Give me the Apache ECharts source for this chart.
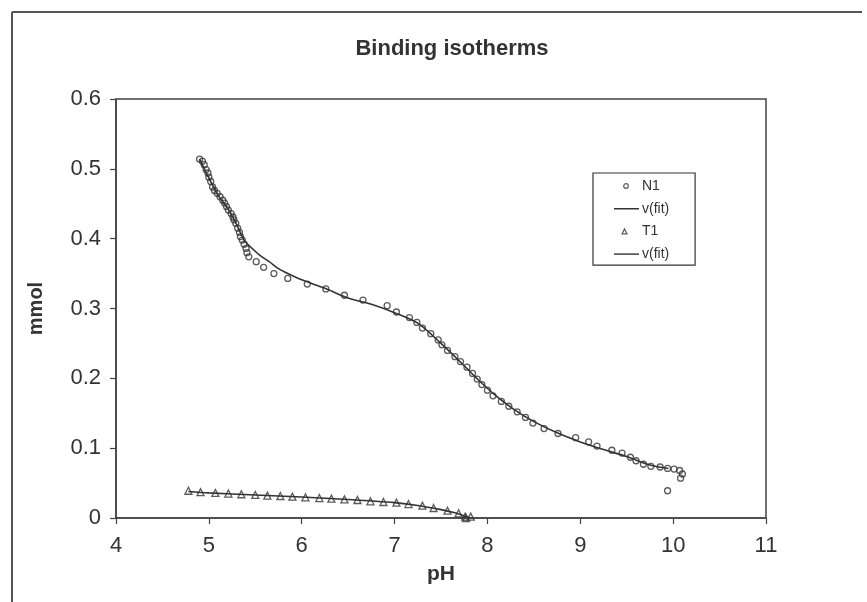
<!DOCTYPE html>
<html>
<head>
<meta charset="utf-8">
<script src="https://cdn.jsdelivr.net/npm/echarts@6/dist/echarts.min.js"></script>
<style>
html,body{margin:0;padding:0;background:#fff;}
#c{width:867px;height:602px;}
</style>
</head>
<body>
<div id="c"></div>
<script>
// ---- data ----
const titleText = 'Binding isotherms';
const xName = 'pH';
const yName = 'mmol';
const xTicks = [4, 5, 6, 7, 8, 9, 10, 11];
const yTicks = [0, 0.1, 0.2, 0.3, 0.4, 0.5, 0.6];

const n1pH = [4.90, 4.93, 4.95, 4.97, 4.99, 5.00, 5.02, 5.04, 5.06, 5.09, 5.12, 5.15, 5.17, 5.19, 5.21, 5.24, 5.26, 5.27, 5.29, 5.31, 5.33, 5.34, 5.36, 5.38, 5.40, 5.41, 5.43, 5.51, 5.59, 5.70, 5.85, 6.06, 6.26, 6.46, 6.66, 6.92, 7.02, 7.16, 7.24, 7.30, 7.39, 7.47, 7.51, 7.57, 7.65, 7.71, 7.78, 7.84, 7.89, 7.94, 8.00, 8.06, 8.15, 8.23, 8.32, 8.41, 8.49, 8.61, 8.76, 8.95, 9.09, 9.18, 9.34, 9.45, 9.54, 9.60, 9.68, 9.76, 9.86, 9.94, 10.01, 10.07, 10.10, 10.08, 9.94];
const n1Val = [0.514, 0.511, 0.506, 0.499, 0.494, 0.488, 0.482, 0.474, 0.469, 0.465, 0.460, 0.455, 0.451, 0.446, 0.441, 0.436, 0.431, 0.427, 0.422, 0.415, 0.409, 0.403, 0.398, 0.392, 0.386, 0.380, 0.374, 0.367, 0.359, 0.350, 0.343, 0.335, 0.328, 0.319, 0.312, 0.304, 0.295, 0.287, 0.280, 0.272, 0.264, 0.255, 0.248, 0.240, 0.231, 0.224, 0.216, 0.207, 0.199, 0.191, 0.183, 0.175, 0.167, 0.160, 0.152, 0.144, 0.136, 0.128, 0.121, 0.115, 0.109, 0.103, 0.097, 0.093, 0.087, 0.082, 0.077, 0.074, 0.073, 0.071, 0.070, 0.068, 0.063, 0.057, 0.039];

const n1FitPH = [4.90, 5.00, 5.10, 5.20, 5.30, 5.38, 5.45, 5.55, 5.65, 5.75, 5.85, 6.00, 6.25, 6.50, 6.75, 7.00, 7.25, 7.50, 7.75, 7.90, 8.10, 8.30, 8.50, 8.75, 9.00, 9.25, 9.50, 9.75, 9.95];
const n1FitVal = [0.514, 0.487, 0.462, 0.444, 0.420, 0.398, 0.388, 0.376, 0.367, 0.357, 0.350, 0.341, 0.329, 0.315, 0.306, 0.294, 0.279, 0.250, 0.218, 0.198, 0.174, 0.154, 0.138, 0.122, 0.109, 0.098, 0.088, 0.076, 0.071];

const t1pH = [4.78, 4.91, 5.07, 5.21, 5.35, 5.50, 5.63, 5.77, 5.90, 6.04, 6.19, 6.32, 6.46, 6.60, 6.74, 6.88, 7.02, 7.15, 7.30, 7.42, 7.57, 7.69, 7.76, 7.82, 7.77];
const t1Val = [0.039, 0.037, 0.036, 0.035, 0.034, 0.033, 0.032, 0.0315, 0.0305, 0.0296, 0.0286, 0.0277, 0.0267, 0.0258, 0.0239, 0.0229, 0.0219, 0.020, 0.0176, 0.0143, 0.0105, 0.0067, 0.002, 0.002, 0.0];

const t1FitPH = [4.78, 5.00, 5.50, 6.00, 6.50, 7.00, 7.25, 7.50, 7.65, 7.75, 7.82];
const t1FitVal = [0.038, 0.036, 0.033, 0.030, 0.0265, 0.022, 0.018, 0.012, 0.0075, 0.003, 0.0];

const legendNames = ['N1', 'v(fit)', 'T1', 'v(fit) '];

// ---- build ----
const zip = (a, b) => a.map((v, i) => [v, b[i]]);
const ink = '#333';
const font = '"Liberation Sans", Arial, sans-serif';

const svgIcon = body => 'image://data:image/svg+xml;utf8,' + encodeURIComponent(
  '<svg xmlns="http://www.w3.org/2000/svg" width="26" height="12" viewBox="0 0 26 12">' + body + '</svg>');
const circleIcon = svgIcon('<circle cx="13" cy="6" r="2.3" fill="none" stroke="#333" stroke-width="1.2"/>');
const triIcon = svgIcon('<path d="M9 8.5 L11.5 3.5 L14 8.5 Z" fill="none" stroke="#333" stroke-width="1.2"/>');
const lineIcon = svgIcon('<line x1="1" y1="6" x2="26" y2="6" stroke="#333" stroke-width="1.4"/>');

const chart = echarts.init(document.getElementById('c'), null, {renderer: 'canvas'});
chart.setOption({
  backgroundColor: '#ffffff',
  animation: false,
  title: {
    text: titleText,
    left: 447, top: 33, textAlign: 'center',
    textStyle: {fontFamily: font, fontSize: 22, fontWeight: 'bold', color: '#333'}
  },
  legend: {
    orient: 'vertical',
    left: 593, top: 173,
    itemWidth: 26, itemHeight: 12, itemGap: 8.7,
    padding: [6, 22, 4, 20],
    borderColor: '#333', borderWidth: 1.2, borderRadius: 0,
    textStyle: {fontFamily: font, fontSize: 14, color: '#333', padding: [0,0,0,-2]},
    data: [
      {name: legendNames[0], icon: circleIcon},
      {name: legendNames[1], icon: lineIcon},
      {name: legendNames[2], icon: triIcon},
      {name: legendNames[3], icon: lineIcon}
    ],
    selectedMode: false
  },
  grid: {
    left: 116, right: 101, top: 99, bottom: 84,
    show: true, borderColor: '#444', borderWidth: 1.5, backgroundColor: '#fff'
  },
  xAxis: {
    type: 'value', min: xTicks[0], max: xTicks[xTicks.length - 1], interval: 1,
    name: xName, nameLocation: 'middle', nameGap: 46,
    nameTextStyle: {fontFamily: font, fontSize: 21, fontWeight: 'bold', color: '#333'},
    axisLine: {onZero: false, lineStyle: {color: '#444', width: 1.5}},
    axisTick: {show: true, inside: false, length: 6, lineStyle: {color: '#444', width: 1.2}},
    axisLabel: {margin: 17, fontFamily: font, fontSize: 22, color: '#333'},
    splitLine: {show: false}
  },
  yAxis: {
    type: 'value', min: yTicks[0], max: yTicks[yTicks.length - 1], interval: 0.1,
    name: yName, nameLocation: 'middle', nameGap: 70, nameRotate: 90,
    nameTextStyle: {fontFamily: font, fontSize: 20, fontWeight: 'bold', color: '#333'},
    axisLine: {onZero: false, lineStyle: {color: '#444', width: 1.5}},
    axisTick: {show: true, inside: false, length: 6, lineStyle: {color: '#444', width: 1.2}},
    axisLabel: {margin: 15, fontFamily: font, fontSize: 22, color: '#333',
      formatter: v => String(Math.round(v * 10) / 10)},
    splitLine: {show: false}
  },
  series: [
    {
      name: legendNames[0], type: 'scatter', data: zip(n1pH, n1Val),
      symbol: 'circle', symbolSize: 6,
      itemStyle: {color: 'rgba(0,0,0,0)', borderColor: '#333', borderWidth: 1.3},
      z: 3
    },
    {
      name: legendNames[1], type: 'line', data: zip(n1FitPH, n1FitVal),
      showSymbol: false, symbol: 'none', smooth: 0.3,
      lineStyle: {color: ink, width: 1.6}, itemStyle: {color: ink},
      z: 2
    },
    {
      name: legendNames[2], type: 'scatter', data: zip(t1pH, t1Val),
      symbol: 'triangle', symbolSize: 7,
      itemStyle: {color: 'rgba(0,0,0,0)', borderColor: '#333', borderWidth: 1.3},
      z: 3
    },
    {
      name: legendNames[3], type: 'line', data: zip(t1FitPH, t1FitVal),
      showSymbol: false, symbol: 'none', smooth: 0.3,
      lineStyle: {color: ink, width: 1.6}, itemStyle: {color: ink},
      z: 2
    }
  ],
  graphic: [
    {type: 'line', shape: {x1: 12, y1: 12, x2: 862, y2: 12}, style: {stroke: '#555', lineWidth: 2}, silent: true},
    {type: 'line', shape: {x1: 12, y1: 12, x2: 12, y2: 602}, style: {stroke: '#555', lineWidth: 2}, silent: true}
  ]
});
</script>
</body>
</html>
